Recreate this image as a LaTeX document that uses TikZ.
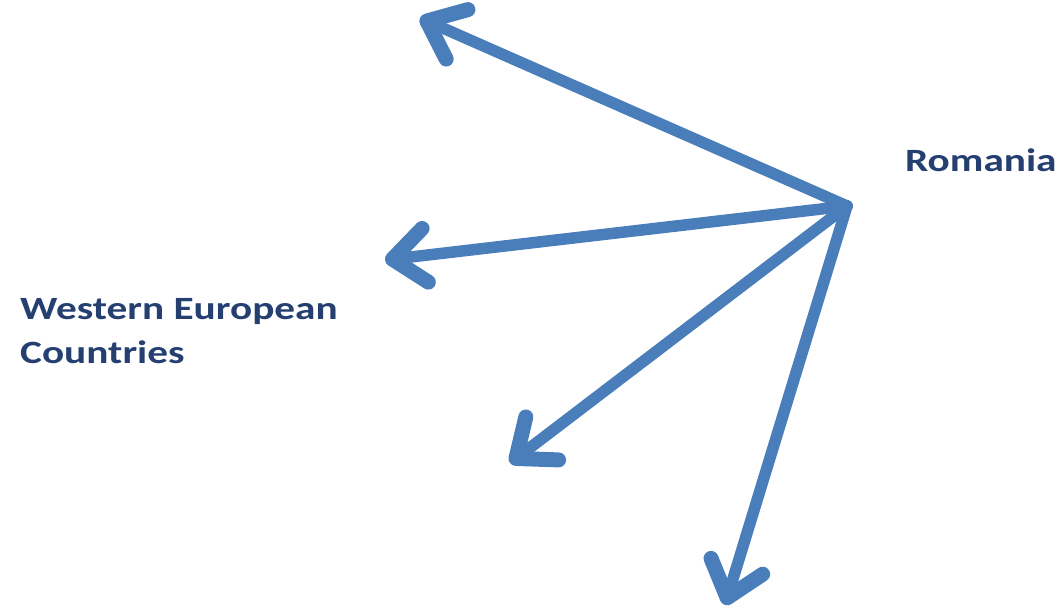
\documentclass[tikz,border=0pt]{standalone}
\usepackage{fontspec}
\setmainfont{Carlito}
\usepackage{tikz}
\usetikzlibrary{arrows.meta}
\newfontfamily\labelfont[FakeStretch=1.27]{Carlito}
\definecolor{arrowblue}{HTML}{4A7EBB}
\definecolor{labelnavy}{HTML}{243F70}
\tikzset{
  flowArrow/.style={draw=arrowblue, line width=11.5pt, line cap=round,
    -{Straight Barb[round,length=33pt,width=54pt,line width=15pt]}},
  countryLabel/.style={text=labelnavy, inner sep=0pt, align=left,
    font=\labelfont\bfseries\fontsize{32.5}{44}\selectfont}
}

\begin{document}
\begin{tikzpicture}[x=1pt,y=-1pt]
  \useasboundingbox (0,0) rectangle (1063,613);
  \coordinate (ro) at (847,206);
  \coordinate (tipA) at (420,18);
  \coordinate (tipB) at (385,260);
  \coordinate (tipC) at (510,463);
  \coordinate (tipD) at (725,605);

  \draw[flowArrow] (ro) -- (tipA);
  \draw[flowArrow] (ro) -- (tipB);
  \draw[flowArrow] (ro) -- (tipC);
  \draw[flowArrow] (ro) -- (tipD);

  \node[countryLabel, anchor=base west] (romania) at (905,171) {Romania};
  % anchor is the baseline of the last line
  \node[countryLabel, anchor=base west] (western) at (20,363) {Western European\\Countries};
\end{tikzpicture}
\end{document}
